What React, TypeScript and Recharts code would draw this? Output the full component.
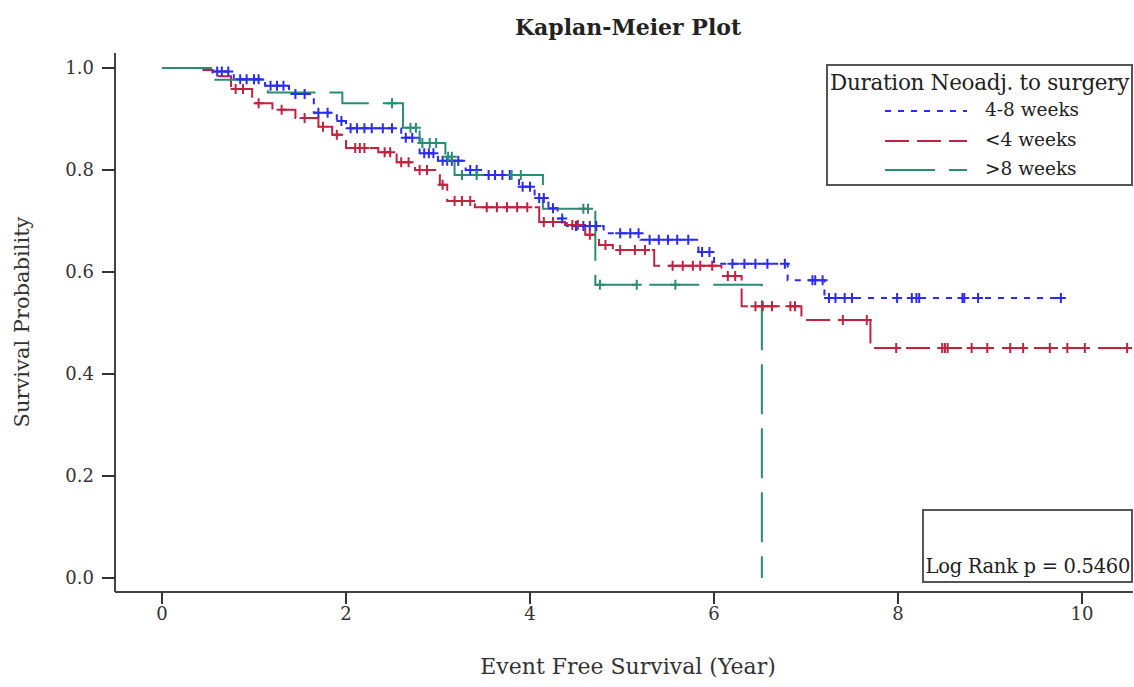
import { ComposedChart, Line, Scatter, XAxis, YAxis } from "recharts";

const SERIF = '"DejaVu Serif", "Liberation Serif", serif';

// 4-8 weeks
const midTimes = [0, 0.55, 0.78, 1.12, 1.38, 1.65, 1.9, 2.0, 2.6, 2.8, 3.0, 3.3, 3.5, 3.88, 4.05, 4.2, 4.3, 4.4, 4.8, 5.2, 5.83, 6.0, 6.8, 7.2, 9.78];
const midSurv = [1, 0.993, 0.978, 0.965, 0.949, 0.912, 0.896, 0.882, 0.863, 0.833, 0.818, 0.8, 0.79, 0.767, 0.745, 0.725, 0.705, 0.69, 0.676, 0.663, 0.639, 0.616, 0.584, 0.549, 0.549];
const midCensor = [
  0.6, 0.65, 0.72, 0.85, 0.92, 1.0, 1.05, 1.18, 1.25, 1.32, 1.45, 1.55, 1.7, 1.8, 1.95,
  2.05, 2.12, 2.2, 2.28, 2.4, 2.5, 2.65, 2.72, 2.85, 2.9, 2.95, 3.05, 3.1, 3.15, 3.22,
  3.35, 3.42, 3.55, 3.62, 3.7, 3.78, 3.92, 4.0, 4.1, 4.15, 4.25, 4.35, 4.5, 4.58, 4.65,
  4.72, 4.98, 5.09, 5.18, 5.3, 5.4, 5.5, 5.6, 5.72, 5.87, 5.95, 6.2, 6.33, 6.45, 6.58,
  6.77, 7.07, 7.1, 7.18, 7.25, 7.32, 7.42, 7.5, 7.99, 8.15, 8.2, 8.23, 8.7, 8.72, 8.87, 9.77,
];

// <4 weeks
const earlyTimes = [0, 0.45, 0.55, 0.75, 0.98, 1.2, 1.45, 1.7, 1.85, 2.0, 2.35, 2.55, 2.75, 3.02, 3.1, 3.4, 4.1, 4.38, 4.6, 4.75, 4.9, 5.35, 6.08, 6.3, 6.95, 7.7, 10.52];
const earlySurv = [1, 0.996, 0.984, 0.959, 0.931, 0.918, 0.902, 0.885, 0.869, 0.843, 0.835, 0.815, 0.8, 0.771, 0.739, 0.727, 0.698, 0.692, 0.673, 0.653, 0.643, 0.612, 0.592, 0.533, 0.506, 0.451, 0.451];
const earlyCensor = [
  0.8, 0.88, 1.05, 1.3, 1.55, 1.75, 1.9, 2.1, 2.15, 2.2, 2.42, 2.48, 2.6, 2.68, 2.8, 2.88,
  3.05, 3.18, 3.26, 3.35, 3.53, 3.64, 3.75, 3.86, 3.97, 4.15, 4.25, 4.46, 4.52, 4.65, 4.82,
  4.98, 5.14, 5.25, 5.55, 5.66, 5.77, 5.85, 5.98, 6.15, 6.23, 6.45, 6.53, 6.63, 6.83, 6.88,
  7.4, 7.66, 7.98, 8.48, 8.51, 8.54, 8.8, 8.97, 9.22, 9.36, 9.65, 9.84, 10.03, 10.49,
];

// >8 weeks
const lateTimes = [0, 0.58, 1.15, 1.96, 2.62, 2.8, 3.08, 3.18, 4.14, 4.71, 6.52];
const lateSurv = [1, 0.977, 0.952, 0.931, 0.883, 0.853, 0.826, 0.79, 0.724, 0.575, 0];
const lateCensor = [2.5, 2.7, 2.76, 2.83, 2.91, 2.98, 3.11, 3.15, 3.26, 3.42, 3.8, 3.9, 4.58, 4.63, 4.76, 5.16, 5.58];

const xTicks = [0, 2, 4, 6, 8, 10];
const yTicks = [0, 0.2, 0.4, 0.6, 0.8, 1.0];

const steps = (times: number[], surv: number[]) => times.map((t, i) => ({ t, s: surv[i] }));

const censored = (times: number[], surv: number[], marks: number[]) =>
  marks.map((c) => {
    let s = surv[0];
    times.forEach((t, i) => {
      if (t <= c) s = surv[i];
    });
    return { t: c, s };
  });

const SERIES = [
  { key: "mid", name: "4-8 weeks", color: "#2b2bf2", dash: "6 7", times: midTimes, surv: midSurv, marks: midCensor },
  { key: "early", name: "<4 weeks", color: "#c0223f", dash: "24 8", times: earlyTimes, surv: earlySurv, marks: earlyCensor },
  { key: "late", name: ">8 weeks", color: "#2a8c72", dash: "50 14", times: lateTimes, surv: lateSurv, marks: lateCensor },
];

const plus = (color: string) => (props: any) => {
  const { cx, cy } = props;
  return (
    <path
      d={`M${cx - 5},${cy}h10M${cx},${cy - 5}v10`}
      stroke={color}
      strokeWidth={2}
      fill="none"
    />
  );
};

function LegendBox() {
  return (
    <div
      style={{
        position: "absolute",
        left: 826,
        top: 64,
        width: 303,
        height: 118,
        border: "2px solid #555",
        background: "#fff",
        fontFamily: SERIF,
        color: "#222",
      }}
    >
      <div style={{ position: "absolute", left: 2, top: 4, fontSize: 21.5, letterSpacing: -0.3, whiteSpace: "nowrap" }}>
        Duration Neoadj. to surgery
      </div>
      {SERIES.map((s, i) => (
        <div key={s.key} style={{ position: "absolute", left: 0, top: 34 + i * 29.5, height: 20, width: 300 }}>
          <svg width={90} height={20} style={{ position: "absolute", left: 55, top: 0 }}>
            <line x1={2} y1={11} x2={84} y2={11} stroke={s.color} strokeWidth={2} strokeDasharray={s.dash} />
          </svg>
          <span style={{ position: "absolute", left: 157, top: -1, fontSize: 18.5, whiteSpace: "nowrap" }}>{s.name}</span>
        </div>
      ))}
    </div>
  );
}

export default function App() {
  const tickStyle = { fontSize: 18, fontFamily: SERIF, fill: "#333" };
  return (
    <div style={{ position: "absolute", left: 0, top: 0, width: 1134, height: 687, background: "#fff" }}>
      <ComposedChart width={1134} height={687} margin={{ top: 53, right: 1, left: 55, bottom: 65 }}>
        <XAxis
          xAxisId="top"
          orientation="top"
          type="number"
          dataKey="t"
          domain={[-0.511, 10.554]}
          height={0}
          tick={false}
          tickLine={false}
          axisLine={{ stroke: "#999", strokeWidth: 1.5 }}
        />
        <XAxis
          type="number"
          dataKey="t"
          domain={[-0.511, 10.554]}
          ticks={xTicks}
          height={30}
          tickSize={12}
          tickMargin={3}
          tick={tickStyle}
          tickLine={{ stroke: "#333", strokeWidth: 2 }}
          axisLine={{ stroke: "#444", strokeWidth: 2 }}
          allowDataOverflow
        />
        <YAxis
          type="number"
          dataKey="s"
          domain={[-0.0275, 1.0294]}
          ticks={yTicks}
          width={60}
          tickSize={13}
          tickMargin={8}
          tickFormatter={(v: number) => v.toFixed(1)}
          tick={tickStyle}
          tickLine={{ stroke: "#333", strokeWidth: 2 }}
          axisLine={{ stroke: "#444", strokeWidth: 2 }}
          allowDataOverflow
        />
        {SERIES.map((s) => (
          <Line
            key={s.key}
            data={steps(s.times, s.surv)}
            dataKey="s"
            type="stepAfter"
            stroke={s.color}
            strokeWidth={2}
            strokeDasharray={s.dash}
            dot={false}
            activeDot={false}
            legendType="none"
            isAnimationActive={false}
          />
        ))}
        {SERIES.map((s) => (
          <Scatter
            key={s.key + "-c"}
            data={censored(s.times, s.surv, s.marks)}
            dataKey="s"
            shape={plus(s.color)}
            legendType="none"
            isAnimationActive={false}
          />
        ))}
      </ComposedChart>
      <LegendBox />
      <div style={{ position: "absolute", left: 0, width: 1256, top: 14, textAlign: "center", fontFamily: SERIF, fontWeight: "bold", fontSize: 22, color: "#222" }}>
        Kaplan-Meier Plot
      </div>
      <div style={{ position: "absolute", left: 0, width: 1256, top: 654, textAlign: "center", fontFamily: SERIF, fontSize: 22, color: "#333" }}>
        Event Free Survival (Year)
      </div>
      <div
        style={{
          position: "absolute",
          left: 22,
          top: 322,
          transform: "translate(-50%, -50%) rotate(-90deg)",
          fontFamily: SERIF,
          fontSize: 21,
          color: "#333",
          whiteSpace: "nowrap",
        }}
      >
        Survival Probability
      </div>
      <div
        style={{
          position: "absolute",
          left: 922,
          top: 509,
          width: 207,
          height: 70,
          border: "2px solid #555",
          background: "#fff",
          fontFamily: SERIF,
          fontSize: 19.5,
          letterSpacing: -0.3,
          color: "#222",
        }}
      >
        <div style={{ position: "absolute", right: 1, bottom: 3, whiteSpace: "nowrap" }}>Log Rank p = 0.5460</div>
      </div>
    </div>
  );
}
